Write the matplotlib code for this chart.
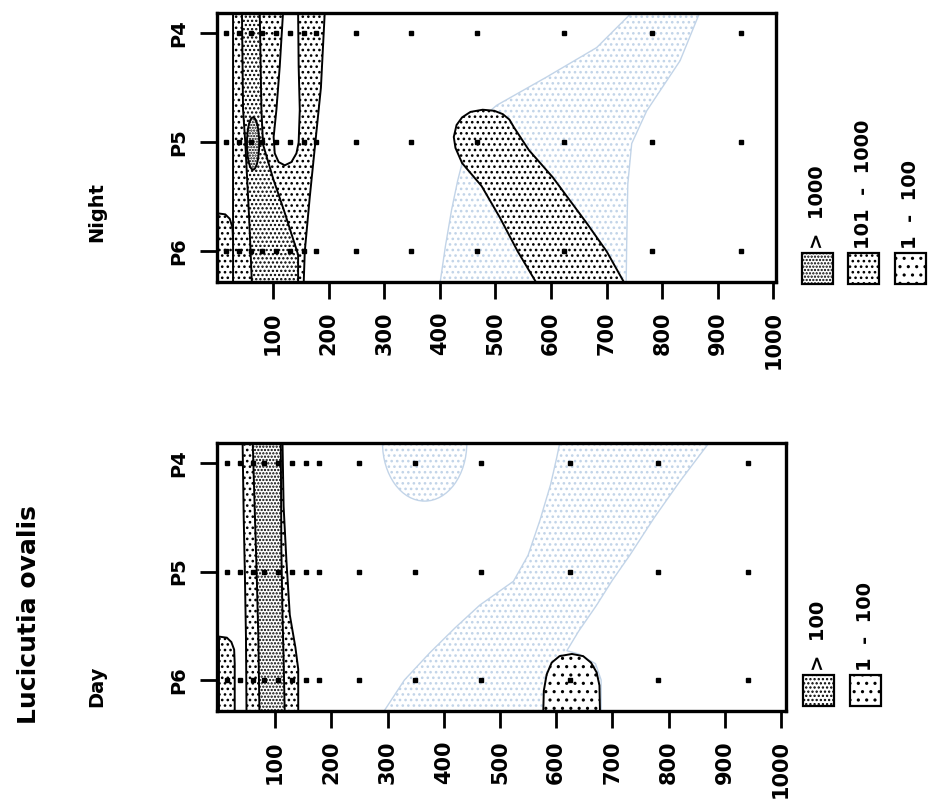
import numpy as np
import matplotlib.pyplot as plt
from matplotlib.patches import Polygon, Ellipse, Rectangle

plt.rcParams['font.family'] = 'DejaVu Sans'
plt.rcParams['font.weight'] = 'bold'
plt.rcParams['hatch.linewidth'] = 1.1

# sampling depths (m) and stations
depths = [15, 38, 60, 80, 105, 130, 155, 178, 250, 348, 466, 624, 782, 941]
stations = [4, 5, 6]
station_labels = ['P4', 'P5', 'P6']
depth_ticks = [100, 200, 300, 400, 500, 600, 700, 800, 900, 1000]

# contour outlines, (depth, station) pairs
# night
night_faint = [(400, 6.3), (410, 5.95), (421, 5.62), (432, 5.35), (440, 5.19), (470, 4.80),
               (502, 4.66), (592, 4.40), (682, 4.13), (747, 3.8), (868, 3.8), (832, 4.25),
               (772, 4.71), (745, 5.01), (738, 5.38), (736, 5.93), (735, 6.3)]
night_tongue = [(575, 6.3), (540, 6.0), (508, 5.69), (475, 5.40), (440, 5.19), (428, 5.05),
                (425, 4.95), (430, 4.84), (440, 4.77), (455, 4.72), (477, 4.70), (498, 4.71),
                (513, 4.74), (525, 4.79), (533, 4.86), (560, 5.07), (603, 5.32), (664, 5.74),
                (700, 6.0), (733, 6.3)]
night_outer = [(28, 3.8), (28, 6.3), (155, 6.3), (157, 6.0), (166, 5.5), (176, 5.0),
               (186, 4.5), (193, 3.8)]
night_finger = [(118, 3.8), (112, 4.3), (106, 4.70), (101, 4.95), (103, 5.10), (110, 5.18),
                (121, 5.21), (133, 5.18), (142, 5.10), (146, 5.0), (148, 4.70), (146, 4.3),
                (145, 3.8)]
night_core = [(44, 3.8), (46, 4.7), (50, 5.0), (53, 5.3), (57, 5.7), (62, 6.3), (145, 6.3),
              (145, 6.03), (120, 5.63), (100, 5.33), (82, 5.02), (79, 4.7), (76, 3.8)]
night_peak = (64, 5.01, 22, 0.48)  # centre depth, centre station, width, height
night_surface = [(0, 5.65), (14, 5.66), (22, 5.70), (27, 5.78), (28, 5.9), (28, 6.3), (0, 6.3)]

# day
day_faint = [(292, 6.3), (330, 6.0), (375, 5.75), (420, 5.52), (464, 5.31), (524, 5.09),
             (550, 4.85), (571, 4.53), (590, 4.20), (601, 3.95), (607, 3.8), (874, 3.8),
             (820, 4.17), (775, 4.50), (731, 4.85), (700, 5.08), (672, 5.31), (640, 5.55),
             (619, 5.73), (640, 5.76), (670, 5.85), (680, 6.0), (680, 6.3)]
day_faint_cap = (366, 3.816, 150, 1.07)
day_outer = [(42, 3.8), (44, 4.5), (46, 5.0), (48, 5.6), (49, 6.3), (141, 6.3), (141, 5.9),
             (136, 5.7), (126, 5.4), (120, 4.9), (115, 4.4), (113, 3.8)]
day_core = [(60, 3.8), (64, 4.5), (67, 5.0), (70, 5.6), (72, 6.3), (117, 6.3), (115, 5.8),
            (113, 5.4), (111, 4.8), (110, 3.8)]
day_surface = [(0, 5.60), (14, 5.61), (22, 5.65), (27, 5.72), (28, 5.85), (28, 6.3), (0, 6.3)]
day_deep = [(577, 6.3), (578, 6.1), (583, 5.95), (592, 5.84), (606, 5.78), (628, 5.76),
            (648, 5.78), (662, 5.84), (672, 5.93), (677, 6.05), (678, 6.3)]

FAINT = '#c2d4e8'
fig = plt.figure(figsize=(9.29, 7.99), dpi=100)


def region(ax, pts, hatch, color='black', lw=1.4, face='white'):
    p = Polygon(pts, closed=True, facecolor=face, edgecolor=color, hatch=hatch, linewidth=lw)
    ax.add_patch(p)


def blob(ax, e, hatch, color='black', lw=1.4):
    ax.add_patch(Ellipse((e[0], e[1]), e[2], e[3], facecolor='white', edgecolor=color,
                         hatch=hatch, linewidth=lw))


def panel(rect, xmax, ytop, ybot, xmin=0):
    ax = fig.add_axes(rect)
    ax.set_xlim(xmin, xmax)
    ax.set_ylim(ybot, ytop)
    ax.set_xticks(depth_ticks)
    ax.set_xticklabels([str(d) for d in depth_ticks], rotation=90, fontsize=15)
    ax.set_yticks(stations)
    ax.set_yticklabels(station_labels, rotation=90, va='center', fontsize=14)
    ax.tick_params(axis='both', length=12, width=2, pad=9, direction='out')
    for s in ax.spines.values():
        s.set_linewidth(2.4)
    return ax


def samples(ax):
    for st in stations:
        ax.plot(depths, [st] * len(depths), 's', color='black', ms=3.3, zorder=5)


# night panel
ax1 = panel([0.2341, 0.6471, 0.6012, 0.3370], 1004.5, 3.81, 6.28)
region(ax1, night_faint, '...', color=FAINT, lw=1.0)
region(ax1, night_tongue, '...')
region(ax1, night_outer, '...')
region(ax1, night_finger, None)
region(ax1, night_core, '....')
blob(ax1, night_peak, '......')
region(ax1, night_surface, '...')
samples(ax1)

# day panel
ax2 = panel([0.2339, 0.1101, 0.6122, 0.3354], 1009, 3.816, 6.286, xmin=-3)
region(ax2, day_faint, '...', color=FAINT, lw=1.0)
blob(ax2, day_faint_cap, '...', color=FAINT, lw=1.0)
region(ax2, day_outer, '...')
region(ax2, day_core, '.....')
region(ax2, day_surface, '...')
region(ax2, day_deep, '..')
samples(ax2)

W, H = 929.0, 799.0
fig.text(97 / W, 1 - 212 / H, 'Night', rotation=90, ha='center', va='center', fontsize=14)
fig.text(97 / W, 1 - 686 / H, 'Day', rotation=90, ha='center', va='center', fontsize=14)
fig.text(29 / W, 1 - 615 / H, 'Lucicutia ovalis', rotation=90, ha='center', va='center',
         fontsize=18)

# key boxes
night_key = [('>  1000', '.....'), ('101  -  1000', '...'), ('1  -  100', '..')]
day_key = [('>  100', '....'), ('1  -  100', '..')]


def key(entries, x0s, ytop, size=31):
    for (label, hatch), x0 in zip(entries, x0s):
        fig.add_artist(Rectangle((x0 / W, 1 - (ytop + size) / H), size / W, size / H,
                                 transform=fig.transFigure, facecolor='white',
                                 edgecolor='black', hatch=hatch, linewidth=1.6))
        fig.text((x0 + size / 2) / W, 1 - (ytop - 4) / H, label, rotation=90,
                 ha='center', va='bottom', fontsize=14)


key(night_key, [802, 848, 895], 253)
key(day_key, [803, 850], 675)

fig.savefig('out.png', dpi=100, facecolor='white')
